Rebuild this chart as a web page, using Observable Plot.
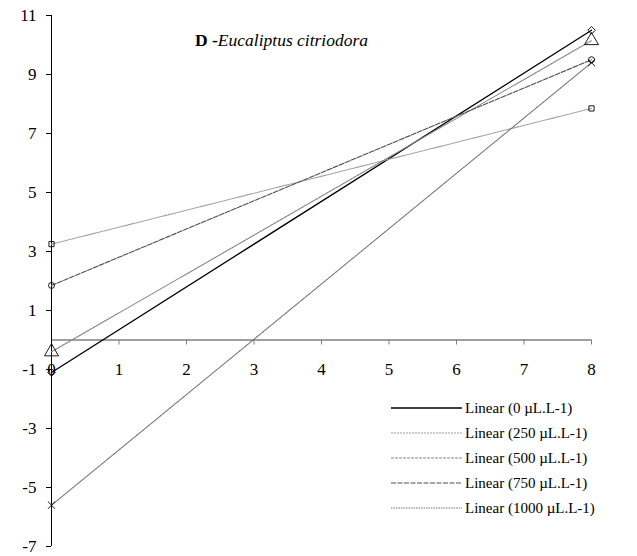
<!DOCTYPE html>
<html>
<head>
<meta charset="utf-8">
<script src="https://cdn.jsdelivr.net/npm/d3@7"></script>
<script src="https://cdn.jsdelivr.net/npm/@observablehq/plot@0.6"></script>
<style>
  body { margin: 0; background: #fff; }
  #wrap { position: relative; width: 637px; height: 556px; }
  #overlay { position: absolute; left: 0; top: 0; pointer-events: none; }
</style>
</head>
<body>
<div id="wrap">
  <div id="chart"></div>
</div>
<script>
// ---- data ----
const titleBold = "D -";
const titleItalic = "Eucaliptus citriodora";
const seriesNames = ["Linear (0 µL.L-1)", "Linear (250 µL.L-1)", "Linear (500 µL.L-1)", "Linear (750 µL.L-1)", "Linear (1000 µL.L-1)"];
const xValues = [0, 8];
const valuesAtStart = [-1.1, 3.25, -0.4, 1.85, -5.6];
const valuesAtEnd = [10.5, 7.85, 10.15, 9.5, 9.4];
const xTicks = [0, 1, 2, 3, 4, 5, 6, 7, 8];
const yTicks = [-7, -5, -3, -1, 1, 3, 5, 7, 9, 11];

// ---- styles ----
const serif = "'Liberation Serif', 'Times New Roman', Times, serif";
const lineColors = ["#000000", "#a0a0a0", "#858585", "#505050", "#747474"];
const lineDash = [null, "2,1", "3,1", "5,1.5", "1.5,1"];
const markerSymbols = ["diamond2", "square2", "triangle", "circle", "times"];
const markerR = [3.4, 3.3, 5.2, 3, 3.4];

const rows = [];
seriesNames.forEach((name, i) => {
  rows.push({series: name, idx: i, x: xValues[0], y: valuesAtStart[i]});
  rows.push({series: name, idx: i, x: xValues[1], y: valuesAtEnd[i]});
});

const marks = [
  Plot.ruleY([0], {stroke: "#808080", strokeWidth: 1.5}),
  Plot.ruleX(xTicks.filter(d => d > 0), {x: d => d, y1: 0, y2: 0, insetBottom: -5, stroke: "#808080"}),
  Plot.text(xTicks, {x: d => d, y: 0, dy: 30, text: d => String(d), fontSize: 17, fill: "#000"}),
  Plot.ruleX([0], {stroke: "#000"}),
  Plot.axisY({ticks: yTicks, tickSize: 5, tickPadding: 10, fontSize: 17, tickFormat: d => String(d), stroke: "#000", label: null})
];
seriesNames.forEach((name, i) => {
  const data = rows.filter(r => r.idx === i);
  marks.push(Plot.line(data, {x: "x", y: "y", stroke: lineColors[i], strokeWidth: i === 0 ? 1.3 : 1.1, strokeDasharray: lineDash[i]}));
});
seriesNames.forEach((name, i) => {
  const data = rows.filter(r => r.idx === i);
  marks.push(Plot.dot(data, {x: "x", y: "y", symbol: markerSymbols[i], r: markerR[i], stroke: "#000", fill: "none", strokeWidth: 0.9}));
});

const chart = Plot.plot({
  width: 637,
  height: 556,
  marginLeft: 51,
  marginRight: 46,
  marginTop: 15,
  marginBottom: 10,
  style: {fontFamily: serif, fontSize: "17px", background: "#fff", color: "#000"},
  x: {domain: [0, 8], axis: null},
  y: {domain: [-7, 11], axis: null},
  marks
});
document.getElementById("chart").appendChild(chart);

// ---- overlay: title and legend inside the plot area ----
const overlay = d3.select("#wrap").append("svg")
  .attr("id", "overlay").attr("width", 637).attr("height", 556)
  .attr("font-family", serif);

const title = overlay.append("text").attr("x", 195).attr("y", 46).attr("font-size", 17.5);
title.append("tspan").attr("font-weight", "bold").text(titleBold);
title.append("tspan").attr("font-style", "italic").text(titleItalic);

seriesNames.forEach((name, i) => {
  const yy = 408 + i * 25;
  overlay.append("line")
    .attr("x1", 391).attr("x2", 462).attr("y1", yy).attr("y2", yy)
    .attr("stroke", lineColors[i]).attr("stroke-width", i === 0 ? 1.3 : 1.1)
    .attr("stroke-dasharray", lineDash[i]);
  overlay.append("text")
    .attr("x", 465).attr("y", yy + 5)
    .attr("font-size", 15)
    .text(name);
});
</script>
</body>
</html>
